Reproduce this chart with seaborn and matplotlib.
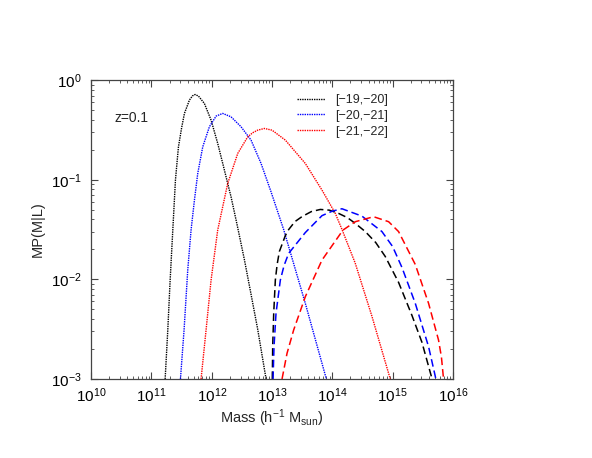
import numpy as np
import pandas as pd
import matplotlib
matplotlib.use("Agg")
import matplotlib.pyplot as plt
from matplotlib.lines import Line2D
from matplotlib.ticker import LogLocator, NullFormatter
import seaborn as sns

# ---- data (log10 of halo mass, log10 of M P(M|L)) ----
labels = ["[\u221219,\u221220]", "[\u221220,\u221221]", "[\u221221,\u221222]"]
colors = ["black", "blue", "red"]

# central galaxies (dotted)
cen_black_logM = [11.227, 11.271, 11.309, 11.354, 11.398, 11.425, 11.448, 11.50, 11.547, 11.63, 11.68,
                  11.724, 11.78, 11.878, 11.989, 12.099, 12.210, 12.320, 12.420, 12.541, 12.652,
                  12.762, 12.901]
cen_black_logP = [-3.0, -2.508, -2.02, -1.505, -1.003, -0.82, -0.669, -0.48, -0.334, -0.20, -0.158,
                  -0.144, -0.16, -0.234, -0.401, -0.635, -0.903, -1.171, -1.45, -1.80, -2.15,
                  -2.50, -3.0]

cen_blue_logM = [11.481, 11.541, 11.602, 11.657, 11.713, 11.768, 11.851, 11.961, 12.072, 12.182,
                 12.320, 12.486, 12.652, 12.818, 12.983, 13.193, 13.552, 13.901]
cen_blue_logP = [-3.0, -2.508, -1.906, -1.505, -1.204, -0.936, -0.669, -0.468, -0.361, -0.334,
                 -0.368, -0.468, -0.602, -0.836, -1.12, -1.50, -2.24, -3.0]

cen_red_logM = [11.823, 11.906, 11.989, 12.099, 12.182, 12.265, 12.431, 12.597, 12.68, 12.762,
                12.873, 13.0, 13.221, 13.552, 13.829, 14.050, 14.160, 14.381, 14.657, 14.961]
cen_red_logP = [-3.0, -2.508, -2.007, -1.505, -1.271, -1.037, -0.736, -0.569, -0.528, -0.502,
                -0.485, -0.502, -0.602, -0.836, -1.104, -1.338, -1.498, -1.839, -2.37, -3.0]

# satellite galaxies (dashed)
sat_black_logM = [13.005, 13.011, 13.028, 13.055, 13.085, 13.122, 13.221, 13.276, 13.38, 13.497,
                  13.65, 13.801, 13.95, 14.105, 14.25, 14.381, 14.547, 14.72, 14.878, 15.099,
                  15.320, 15.486, 15.655]
sat_black_logP = [-3.0, -2.676, -2.341, -2.007, -1.85, -1.72, -1.56, -1.50, -1.42, -1.37,
                  -1.32, -1.298, -1.305, -1.338, -1.38, -1.438, -1.52, -1.63, -1.77, -2.03,
                  -2.36, -2.63, -3.0]

sat_blue_logM = [13.017, 13.033, 13.066, 13.138, 13.2, 13.276, 13.552, 13.829, 14.0, 14.160,
                 14.492, 14.823, 15.0, 15.155, 15.376, 15.597, 15.718]
sat_blue_logP = [-3.0, -2.676, -2.341, -2.007, -1.86, -1.739, -1.53, -1.36, -1.315, -1.291,
                 -1.365, -1.52, -1.67, -1.88, -2.24, -2.676, -3.0]

sat_red_logM = [13.166, 13.249, 13.359, 13.552, 13.829, 14.177, 14.381, 14.685, 14.934, 15.099,
                15.376, 15.597, 15.762, 15.81, 15.845]
sat_red_logP = [-3.0, -2.742, -2.508, -2.174, -1.806, -1.505, -1.421, -1.371, -1.421, -1.52,
                -1.85, -2.241, -2.609, -2.78, -3.0]

cen_logM = [cen_black_logM, cen_blue_logM, cen_red_logM]
cen_logP = [cen_black_logP, cen_blue_logP, cen_red_logP]
sat_logM = [sat_black_logM, sat_blue_logM, sat_red_logM]
sat_logP = [sat_black_logP, sat_blue_logP, sat_red_logP]

# ---- style ----
sns.set_style("ticks")
plt.rcParams["font.family"] = ["Liberation Sans", "DejaVu Sans"]
plt.rcParams["mathtext.fontset"] = "custom"
plt.rcParams["mathtext.rm"] = "Liberation Sans"
plt.rcParams["mathtext.it"] = "Liberation Sans:italic"
plt.rcParams["mathtext.default"] = "regular"

fig = plt.figure(figsize=(5.92, 4.58), dpi=100)
ax = fig.add_axes([0.154, 0.1725, 0.611, 0.6525])

axcol = "#444444"
dotted = (0, (1, 0.7))
dashed = (0, (5, 2.6))

for i in range(3):
    df = pd.DataFrame({"M": 10 ** np.array(cen_logM[i]), "P": 10 ** np.array(cen_logP[i])})
    sns.lineplot(data=df, x="M", y="P", ax=ax, color=colors[i], lw=1.0,
                 linestyle=dotted, sort=False, legend=False)
for i in range(3):
    df = pd.DataFrame({"M": 10 ** np.array(sat_logM[i]), "P": 10 ** np.array(sat_logP[i])})
    sns.lineplot(data=df, x="M", y="P", ax=ax, color=colors[i], lw=1.1,
                 linestyle=dashed, sort=False, legend=False)

ax.set_xscale("log")
ax.set_yscale("log")
ax.set_xlim(1e10, 1e16)
ax.set_ylim(1e-3, 1)

ax.xaxis.set_major_locator(LogLocator(base=10, numticks=20))
ax.yaxis.set_major_locator(LogLocator(base=10, numticks=20))
ax.xaxis.set_minor_locator(LogLocator(base=10, subs=np.arange(2, 10), numticks=100))
ax.yaxis.set_minor_locator(LogLocator(base=10, subs=np.arange(2, 10), numticks=100))
ax.xaxis.set_minor_formatter(NullFormatter())
ax.yaxis.set_minor_formatter(NullFormatter())

ax.tick_params(which="both", direction="in", top=True, right=True, colors=axcol,
               labelcolor="black", labelsize=11)
ax.tick_params(which="major", length=5, width=0.8)
ax.tick_params(which="minor", length=2.5, width=0.6)
ax.tick_params(axis="x", which="major", pad=5)
ax.tick_params(axis="y", which="major", pad=7)
for s in ax.spines.values():
    s.set_color(axcol)
    s.set_linewidth(0.9)

ax.set_xlabel("Mass (h$^{-1}$ M$_{sun}$)", fontsize=10.5, labelpad=2)
ax.set_ylabel("MP(M|L)", fontsize=10.5, labelpad=4)

ax.text(0.0635, 0.875, "z=0.1", transform=ax.transAxes, fontsize=10,
        ha="left", va="center")

handles = [Line2D([], [], color=c, lw=1.0, linestyle=dotted) for c in colors]
leg = ax.legend(handles, labels, loc="upper left", bbox_to_anchor=(0.555, 0.97),
                frameon=False, fontsize=9, handlelength=2.25, handletextpad=0.8,
                labelspacing=0.3, borderaxespad=0.0)

fig.savefig("out.png", dpi=100)
